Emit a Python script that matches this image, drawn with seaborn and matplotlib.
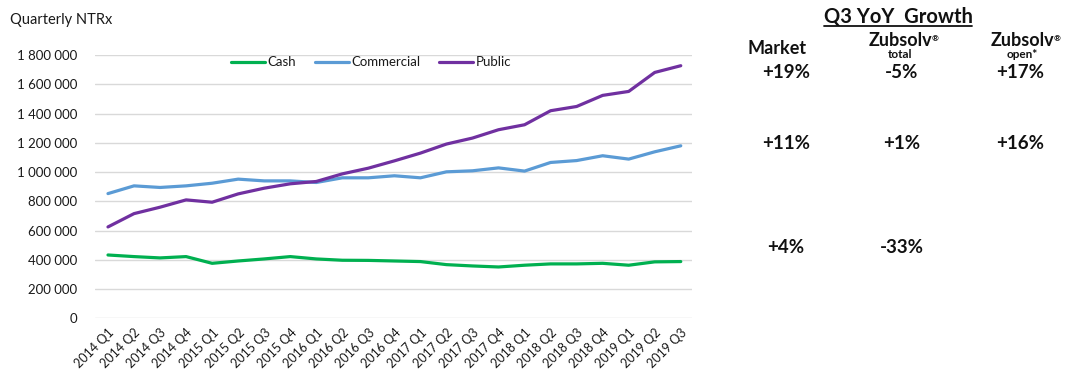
import matplotlib
matplotlib.use("Agg")
import matplotlib.pyplot as plt
import seaborn as sns
import pandas as pd
from matplotlib.ticker import FuncFormatter
from matplotlib.lines import Line2D

quarters = ["2014 Q1", "2014 Q2", "2014 Q3", "2014 Q4",
            "2015 Q1", "2015 Q2", "2015 Q3", "2015 Q4",
            "2016 Q1", "2016 Q2", "2016 Q3", "2016 Q4",
            "2017 Q1", "2017 Q2", "2017 Q3", "2017 Q4",
            "2018 Q1", "2018 Q2", "2018 Q3", "2018 Q4",
            "2019 Q1", "2019 Q2", "2019 Q3"]
cash = [433000, 422000, 413000, 422000, 376000, 392000, 406000, 422000,
        406000, 397000, 396000, 392000, 388000, 367000, 358000, 351000,
        363000, 372000, 372000, 376000, 363000, 386000, 388000]
commercial = [853000, 906000, 895000, 906000, 924000, 952000, 940000, 940000,
              929000, 961000, 961000, 975000, 961000, 1002000, 1009000, 1029000,
              1007000, 1066000, 1079000, 1112000, 1089000, 1139000, 1180000]
public = [625000, 716000, 760000, 810000, 794000, 851000, 890000, 920000,
          936000, 988000, 1027000, 1077000, 1130000, 1192000, 1233000, 1290000,
          1324000, 1420000, 1449000, 1525000, 1552000, 1682000, 1728000]
series_names = ["Cash", "Commercial", "Public"]
colors = ["#00B050", "#5B9BD5", "#7030A0"]

growth_title = "Q3 YoY  Growth"
growth_cols = ["Market", "Zubsolv", "Zubsolv"]
growth_sub = ["", "total", "open*"]
growth_rows = [["+19%", "-5%", "+17%"],
               ["+11%", "+1%", "+16%"],
               ["+4%", "-33%", ""]]

sns.set_theme(style="white")
plt.rcParams["font.family"] = ["Lato", "DejaVu Sans"]

df = pd.DataFrame({
    "quarter": quarters * 3,
    "value": cash + commercial + public,
    "series": [s for s in series_names for _ in quarters],
})

fig = plt.figure(figsize=(10.67, 3.78), dpi=100)
ax = fig.add_axes([0.089, 0.158, 0.560, 0.696])

sns.lineplot(data=df, x="quarter", y="value", hue="series",
             hue_order=series_names, palette=colors, linewidth=2.3,
             sort=False, ax=ax)

ax.set_ylim(0, 1800000)
ax.set_yticks(range(0, 1800001, 200000))
ax.set_xlim(-0.5, 22.45)
ax.yaxis.set_major_formatter(FuncFormatter(lambda v, p: f"{int(v):,}".replace(",", " ")))
ax.grid(axis="y", color="#D9D9D9", linewidth=1.0)
ax.grid(axis="x", visible=False)
for s in ax.spines.values():
    s.set_visible(False)
ax.set_xlabel("")
ax.set_ylabel("")
ax.tick_params(axis="y", length=0, pad=13, labelsize=9.5, labelcolor="#1a1a1a")
ax.tick_params(axis="x", length=0, pad=6, labelsize=9, labelcolor="#1a1a1a")
plt.setp(ax.get_xticklabels(), rotation=45, ha="right", rotation_mode="anchor")

leg = ax.legend(loc="center", bbox_to_anchor=(0.462, 0.973), ncol=3,
                frameon=False, fontsize=9.5, handlelength=2.6,
                columnspacing=1.4, handletextpad=0.2)
for t in leg.get_texts():
    t.set_color("#1a1a1a")

fig.text(10 / 1067, 1 - 20 / 378, "Quarterly NTRx", fontsize=10.5,
         color="#1a1a1a", va="center", ha="left")

# Right-side growth table
W, H = 1067.0, 378.0
def fx(px):
    return px / W
def fy(py):
    return 1 - py / H

title = fig.text(fx(898), fy(17), growth_title, fontsize=14.5, fontweight="bold",
                 ha="center", va="center", color="#111111")
col_x = [777, 900, 1022]
col_y = [48, 41, 41]
heads = []
for i, name in enumerate(growth_cols):
    t = fig.text(fx(col_x[i]), fy(col_y[i]), name, fontsize=13,
                 fontweight="bold", ha="center", va="center", color="#111111")
    heads.append(t)
    if growth_sub[i]:
        fig.text(fx(col_x[i]), fy(55), growth_sub[i], fontsize=8.5,
                 fontweight="bold", ha="center", va="center", color="#111111")

row_y = [72, 143, 247]
val_x = [786, 902, 1020]
for r, row in enumerate(growth_rows):
    for c, v in enumerate(row):
        if v:
            fig.text(fx(val_x[c]), fy(row_y[r]), v, fontsize=13.5,
                     fontweight="bold", ha="center", va="center", color="#111111")

fig.canvas.draw()
renderer = fig.canvas.get_renderer()
inv = fig.transFigure.inverted()
bb = title.get_window_extent(renderer)
(x0, y0), (x1, y1) = inv.transform([(bb.x0, bb.y0), (bb.x1, bb.y1)])
fig.add_artist(Line2D([x0, x1], [y0 + 0.002, y0 + 0.002],
                      transform=fig.transFigure, color="#111111", linewidth=1.3))
for i in (1, 2):
    bb = heads[i].get_window_extent(renderer)
    (hx0, hy0), (hx1, hy1) = inv.transform([(bb.x0, bb.y0), (bb.x1, bb.y1)])
    fig.text(hx1, hy1 - 0.008, "®", fontsize=6, fontweight="bold",
             ha="left", va="top", color="#111111")

fig.savefig("out.png", dpi=100)
